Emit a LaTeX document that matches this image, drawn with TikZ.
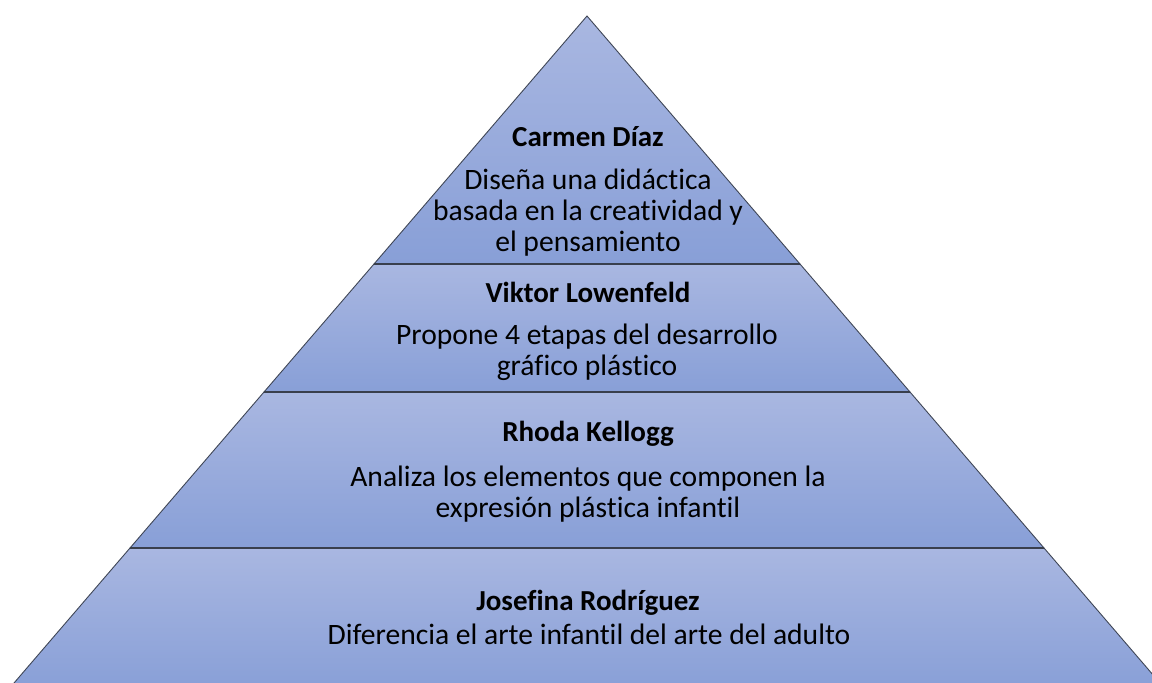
\documentclass[tikz,border=0pt]{standalone}
\usepackage{fontspec}
\setmainfont{Carlito}[RawFeature=-liga]
\definecolor{layertop}{HTML}{A9B7E1}
\definecolor{layerbot}{HTML}{889FD7}
\definecolor{edgecol}{HTML}{3F4656}
\tikzset{
  layer/.style={top color=layertop, bottom color=layerbot, draw=edgecol, line width=0.9pt, line join=miter},
  divider/.style={draw=edgecol!90!black, line width=1.3pt},
  title/.style={font=\bfseries\fontsize{29}{32}\selectfont, text=black, inner sep=0pt, anchor=center},
  body/.style={font=\fontsize{29.6}{31}\selectfont, text=black, align=center, inner sep=0pt, anchor=center}
}
\begin{document}
\begin{tikzpicture}[x=1pt,y=-1pt]
\useasboundingbox (0,0) rectangle (1152,683);
\begin{scope}
\clip (0,0) rectangle (1152,683);
% layers (bottom to top)
\path[layer] (130,548) -- (1044,548) -- (1166,690) -- (8,690) -- cycle;
\path[layer] (264,392) -- (910,392) -- (1044,548) -- (130,548) -- cycle;
\path[layer] (374,264) -- (800,264) -- (910,392) -- (264,392) -- cycle;
\path[layer] (587,16) -- (800,264) -- (374,264) -- cycle;
\coordinate (d1l) at (374,264); \coordinate (d1r) at (800,264);
\coordinate (d2l) at (264,392); \coordinate (d2r) at (910,392);
\coordinate (d3l) at (130,548); \coordinate (d3r) at (1044,548);
\draw[divider] (d1l) -- (d1r);
\draw[divider] (d2l) -- (d2r);
\draw[divider] (d3l) -- (d3r);
\end{scope}
% texts
\node[title] (t1) at (588,137) {Carmen Díaz};
\node[body] (b1) at (588,213) {Diseña una didáctica\\basada en la creatividad y\\el pensamiento};
\node[title] (t2) at (588,292) {Viktor Lowenfeld};
\node[body] (b2) at (587,352) {Propone 4 etapas del desarrollo\\gráfico plástico};
\node[title] (t3) at (588,434) {Rhoda Kellogg};
\node[body] (b3) at (588,494) {Analiza los elementos que componen la\\expresión plástica infantil};
\node[title] (t4) at (588,603) {Josefina Rodríguez};
\node[body] (b4) at (589,634) {Diferencia el arte infantil del arte del adulto};
\end{tikzpicture}
\end{document}
